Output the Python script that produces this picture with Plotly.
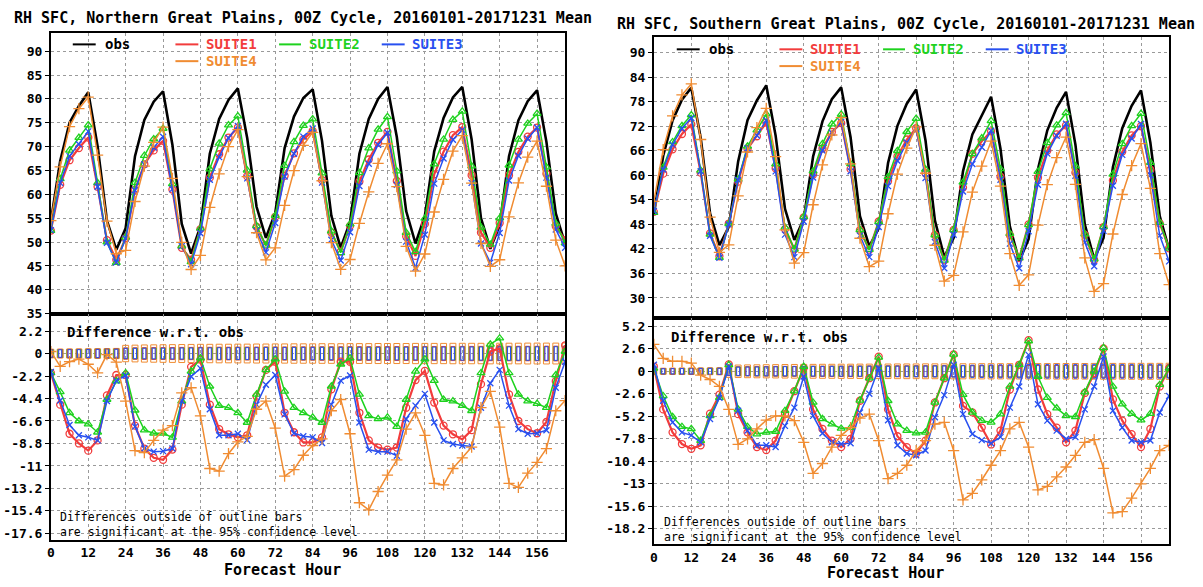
import plotly.graph_objects as go

W, H = 1203, 587

HOURS = [0, 3, 6, 9, 12, 15, 18, 21, 24, 27, 30, 33, 36, 39, 42, 45, 48, 51, 54, 57,
         60, 63, 66, 69, 72, 75, 78, 81, 84, 87, 90, 93, 96, 99, 102, 105, 108, 111,
         114, 117, 120, 123, 126, 129, 132, 135, 138, 141, 144, 147, 150, 153, 156,
         159, 162, 165]
XTICKS = [0, 12, 24, 36, 48, 60, 72, 84, 96, 108, 120, 132, 144, 156]

SUITES = ["SUITE1", "SUITE2", "SUITE3", "SUITE4"]
COLORS = {"obs": "#000000", "SUITE1": "#f23c3c", "SUITE2": "#1ed21e",
          "SUITE3": "#2850f0", "SUITE4": "#f08c32"}

# ---------------- Northern Great Plains ----------------
N_TITLE = "RH SFC, Northern Great Plains, 00Z Cycle, 20160101-20171231 Mean"
N_OBS = [54.3, 67.0, 75.0, 78.5, 81.4, 70.1, 54.5, 48.4,
         52.9, 68.0, 75.6, 79.4, 81.6, 70.4, 53.8, 47.6,
         53.3, 68.5, 75.8, 79.8, 82.2, 71.8, 57.4, 50.9,
         56.1, 69.7, 76.3, 80.2, 82.0, 71.2, 55.5, 48.8,
         54.2, 68.5, 75.8, 80.0, 82.5, 72.0, 56.5, 49.7,
         55.5, 69.0, 76.0, 80.3, 82.5, 71.5, 55.0, 48.6,
         53.5, 68.0, 75.5, 79.5, 81.8, 71.0, 56.0, 49.6]
N_D1 = [-1.9, -5.0, -7.85, -8.8, -9.5, -8.5, -4.1, -2.1,
        -2.1, -7.05, -9.3, -10.2, -10.4, -9.4, -5.0, -1.3,
        -0.6, -5.0, -7.4, -7.9, -8.2, -8.0, -4.2, -1.6,
        -0.8, -5.8, -7.7, -8.7, -8.7, -8.2, -3.5, -0.8,
        -0.8, -5.8, -8.5, -9.2, -9.4, -9.2, -5.3, -2.6,
        -1.7, -4.8, -7.05, -7.9, -8.4, -7.5, -3.0, 0.2,
        0.5, -4.0, -6.6, -7.4, -7.8, -6.7, -2.7, 0.8]
N_D2 = [-1.9, -3.75, -5.8, -6.6, -6.9, -7.7, -4.5, -2.7,
        -1.9, -5.55, -7.5, -7.8, -7.8, -8.2, -4.65, -1.75,
        -0.45, -3.2, -5.1, -5.3, -5.8, -6.75, -4.0, -1.6,
        -0.55, -3.7, -5.3, -5.8, -6.25, -6.75, -3.2, -1.05,
        -0.45, -4.0, -6.1, -6.4, -6.25, -7.15, -4.5, -1.75,
        -0.55, -2.65, -4.5, -4.65, -5.1, -5.6, -1.9, 0.9,
        1.5, -1.9, -4.0, -4.65, -4.9, -5.3, -2.1, 0.2]
N_D3 = [-1.8, -4.6, -7.0, -8.0, -8.2, -8.5, -4.65, -2.65,
        -2.15, -7.15, -9.3, -9.6, -9.55, -9.3, -4.65, -2.25,
        -1.45, -5.45, -8.0, -8.0, -7.85, -8.45, -5.0, -3.05,
        -2.1, -5.95, -7.8, -8.1, -8.2, -8.75, -5.0, -2.65,
        -2.15, -6.75, -9.4, -9.6, -9.6, -10.0, -6.4, -5.1,
        -3.95, -6.75, -8.5, -8.85, -9.0, -9.1, -5.3, -2.9,
        -1.6, -5.1, -7.4, -7.85, -7.8, -7.5, -3.35, -0.8]
N_D4 = [0.2, -1.25, -0.8, -0.55, -1.05, -1.9, -0.1, -0.85,
        -4.65, -9.5, -9.7, -8.5, -7.5, -7.05, -3.85, -3.35,
        -6.1, -11.25, -11.5, -9.8, -8.65, -8.1, -5.45, -4.65,
        -7.3, -12.0, -11.35, -9.95, -9.0, -8.35, -5.6, -4.5,
        -7.85, -14.6, -15.3, -13.5, -11.9, -10.4, -7.4, -5.8,
        -8.0, -12.7, -12.85, -11.25, -10.2, -9.15, -5.3, -3.7,
        -7.2, -12.7, -13.1, -11.7, -10.65, -9.3, -5.6, -4.6]
# half-widths of the 95% confidence outline bars
N_CI1 = [0.40, 0.41, 0.42, 0.42, 0.43, 0.44, 0.45, 0.46, 0.55, 0.56, 0.57, 0.58, 0.58, 0.59,
         0.60, 0.60, 0.61, 0.61, 0.62, 0.62, 0.63, 0.63, 0.63, 0.64, 0.64, 0.64, 0.65, 0.65,
         0.65, 0.66, 0.66, 0.66, 0.67, 0.67, 0.67, 0.67, 0.68, 0.68, 0.68, 0.68, 0.69, 0.69,
         0.69, 0.69, 0.70, 0.70, 0.70, 0.70, 0.70, 0.71, 0.71, 0.71, 0.71, 0.72, 0.72, 0.72]
N_CI2 = [0.38, 0.39, 0.40, 0.40, 0.41, 0.42, 0.43, 0.44, 0.52, 0.53, 0.54, 0.55, 0.55, 0.56,
         0.57, 0.57, 0.58, 0.58, 0.59, 0.59, 0.60, 0.60, 0.60, 0.61, 0.61, 0.61, 0.62, 0.62,
         0.62, 0.63, 0.63, 0.63, 0.64, 0.64, 0.64, 0.64, 0.65, 0.65, 0.65, 0.65, 0.66, 0.66,
         0.66, 0.66, 0.67, 0.67, 0.67, 0.67, 0.67, 0.68, 0.68, 0.68, 0.68, 0.69, 0.69, 0.69]
N_CI3 = [0.36, 0.37, 0.38, 0.38, 0.39, 0.40, 0.41, 0.42, 0.50, 0.51, 0.52, 0.53, 0.53, 0.54,
         0.55, 0.55, 0.56, 0.56, 0.57, 0.57, 0.58, 0.58, 0.58, 0.59, 0.59, 0.59, 0.60, 0.60,
         0.60, 0.61, 0.61, 0.61, 0.62, 0.62, 0.62, 0.62, 0.63, 0.63, 0.63, 0.63, 0.64, 0.64,
         0.64, 0.64, 0.65, 0.65, 0.65, 0.65, 0.65, 0.66, 0.66, 0.66, 0.66, 0.67, 0.67, 0.67]
N_CI4 = [0.42, 0.43, 0.44, 0.45, 0.46, 0.47, 0.48, 0.50, 0.80, 0.82, 0.84, 0.85, 0.86, 0.87,
         0.88, 0.89, 0.90, 0.90, 0.91, 0.91, 0.92, 0.92, 0.93, 0.93, 0.94, 0.94, 0.95, 0.95,
         0.95, 0.96, 0.96, 0.96, 0.97, 0.97, 0.97, 0.98, 0.98, 0.98, 0.98, 0.99, 0.99, 0.99,
         0.99, 1.00, 1.00, 1.00, 1.00, 1.01, 1.01, 1.01, 1.01, 1.02, 1.02, 1.02, 1.02, 1.03]

# ---------------- Southern Great Plains ----------------
S_TITLE = "RH SFC, Southern Great Plains, 00Z Cycle, 20160101-20171231 Mean"
S_OBS = [50.5, 64.8, 73.4, 78.5, 81.4, 69.2, 50.7, 42.9,
         47.4, 63.4, 73.5, 78.3, 82.0, 69.7, 51.8, 44.2,
         49.3, 64.6, 73.2, 78.6, 81.5, 69.3, 50.0, 42.6,
         47.0, 63.0, 72.1, 77.5, 81.0, 68.5, 49.0, 40.0,
         44.7, 61.0, 70.0, 74.8, 79.2, 66.5, 47.5, 39.0,
         44.4, 61.5, 71.0, 76.5, 80.4, 67.5, 48.0, 39.5,
         44.7, 62.0, 71.5, 77.0, 80.75, 68.0, 50.0, 41.8]
S_D1 = [0.55, -4.4, -7.05, -8.4, -8.95, -8.55, -4.9, -2.7,
        0.8, -4.95, -7.05, -8.75, -9.1, -8.0, -4.95, -2.3,
        0.4, -4.4, -6.65, -8.0, -8.75, -7.8, -3.4, -0.8,
        1.7, -4.4, -7.5, -8.75, -9.5, -8.0, -3.6, -0.8,
        1.95, -4.0, -4.75, -6.5, -8.45, -6.85, -2.1, 0.75,
        3.6, -2.1, -4.95, -6.5, -8.2, -6.85, -2.5, -0.2,
        2.65, -3.25, -5.7, -7.25, -8.75, -6.65, -1.75, 0.35]
S_D2 = [0.35, -2.85, -5.25, -6.4, -6.65, -8.0, -5.15, -3.05,
        0.75, -4.4, -6.4, -7.25, -7.05, -6.95, -4.55, -2.3,
        0.55, -3.6, -5.5, -6.1, -6.6, -6.5, -3.35, -0.8,
        1.6, -3.4, -6.1, -6.85, -7.15, -7.05, -3.6, -0.8,
        1.95, -2.7, -4.75, -5.7, -5.9, -4.95, -1.75, 0.75,
        3.5, -0.6, -3.05, -4.25, -5.15, -5.25, -2.4, 0.0,
        2.7, -1.75, -3.8, -4.9, -5.65, -4.9, -1.55, 0.35]
S_D3 = [0.75, -3.4, -5.9, -7.05, -7.4, -8.2, -5.5, -3.05,
        0.55, -4.55, -6.85, -8.55, -8.55, -8.75, -6.3, -4.2,
        -0.6, -5.15, -7.15, -8.2, -8.4, -8.3, -4.75, -2.6,
        0.35, -5.65, -8.55, -9.5, -9.7, -9.15, -5.3, -2.75,
        0.75, -4.95, -7.25, -7.95, -8.3, -7.6, -4.2, -1.75,
        1.9, -3.8, -5.7, -6.85, -7.8, -7.6, -4.4, -1.75,
        1.7, -4.55, -6.5, -8.0, -8.2, -8.0, -4.75, -2.85]
S_D4 = [3.1, 1.5, 1.15, 1.15, 0.95, -0.45, -0.95, -1.75,
        -4.4, -8.45, -7.8, -6.65, -5.65, -5.15, -5.15, -5.7,
        -8.2, -11.8, -10.65, -8.75, -7.4, -6.5, -5.4, -4.95,
        -8.0, -12.4, -11.8, -10.85, -9.15, -8.0, -6.1, -5.9,
        -9.15, -14.85, -14.1, -12.55, -10.85, -9.15, -6.65, -5.9,
        -8.75, -13.7, -13.3, -12.2, -11.05, -9.7, -8.2, -7.9,
        -11.2, -16.35, -16.2, -14.65, -13.0, -11.2, -9.15, -8.55]
S_CI1 = [0.32, 0.33, 0.34, 0.35, 0.35, 0.36, 0.37, 0.38, 0.50, 0.52, 0.53, 0.54, 0.55, 0.56,
         0.57, 0.57, 0.58, 0.59, 0.59, 0.60, 0.60, 0.61, 0.61, 0.62, 0.62, 0.63, 0.63, 0.63,
         0.64, 0.64, 0.65, 0.65, 0.65, 0.66, 0.66, 0.66, 0.67, 0.67, 0.67, 0.68, 0.68, 0.68,
         0.69, 0.69, 0.69, 0.70, 0.70, 0.70, 0.70, 0.71, 0.71, 0.71, 0.72, 0.72, 0.72, 0.72]
S_CI2 = [0.30, 0.31, 0.32, 0.33, 0.33, 0.34, 0.35, 0.36, 0.48, 0.50, 0.51, 0.52, 0.53, 0.54,
         0.55, 0.55, 0.56, 0.57, 0.57, 0.58, 0.58, 0.59, 0.59, 0.60, 0.60, 0.61, 0.61, 0.61,
         0.62, 0.62, 0.63, 0.63, 0.63, 0.64, 0.64, 0.64, 0.65, 0.65, 0.65, 0.66, 0.66, 0.66,
         0.67, 0.67, 0.67, 0.68, 0.68, 0.68, 0.68, 0.69, 0.69, 0.69, 0.70, 0.70, 0.70, 0.70]
S_CI3 = [0.29, 0.30, 0.31, 0.32, 0.32, 0.33, 0.34, 0.35, 0.47, 0.49, 0.50, 0.51, 0.52, 0.53,
         0.54, 0.54, 0.55, 0.56, 0.56, 0.57, 0.57, 0.58, 0.58, 0.59, 0.59, 0.60, 0.60, 0.60,
         0.61, 0.62, 0.63, 0.64, 0.66, 0.68, 0.70, 0.72, 0.74, 0.75, 0.76, 0.77, 0.78, 0.78,
         0.79, 0.79, 0.79, 0.80, 0.80, 0.80, 0.80, 0.80, 0.80, 0.80, 0.80, 0.80, 0.80, 0.80]
S_CI4 = [0.34, 0.35, 0.36, 0.37, 0.37, 0.38, 0.39, 0.40, 0.70, 0.72, 0.74, 0.75, 0.76, 0.77,
         0.78, 0.79, 0.80, 0.80, 0.81, 0.81, 0.82, 0.82, 0.83, 0.83, 0.84, 0.84, 0.85, 0.85,
         0.85, 0.86, 0.86, 0.86, 0.87, 0.87, 0.87, 0.88, 0.88, 0.88, 0.88, 0.89, 0.89, 0.89,
         0.89, 0.90, 0.90, 0.90, 0.90, 0.91, 0.91, 0.91, 0.91, 0.92, 0.92, 0.92, 0.92, 0.93]

N_TICKS_TOP = [35, 40, 45, 50, 55, 60, 65, 70, 75, 80, 85, 90]
N_TICKS_BOT = [2.2, 0, -2.2, -4.4, -6.6, -8.8, -11, -13.2, -15.4, -17.6]
N_TICKTEXT_BOT = ["2.2", "0", "-2.2", "-4.4", "-6.6", "-8.8", "-11", "-13.2", "-15.4", "-17.6"]
S_TICKS_TOP = [30, 36, 42, 48, 54, 60, 66, 72, 78, 84, 90]
S_TICKS_BOT = [5.2, 2.6, 0, -2.6, -5.2, -7.8, -10.4, -13, -15.6, -18.2]
S_TICKTEXT_BOT = ["5.2", "2.6", "0", "-2.6", "-5.2", "-7.8", "-10.4", "-13", "-15.6", "-18.2"]

NOTE = "Differences outside of outline bars<br>are significant at the 95% confidence level"

FONT = "DejaVu Sans Mono"
MARKERS = {"SUITE1": ("circle-open", 7, 2.2),
           "SUITE2": ("triangle-up-open", 7, 1.5),
           "SUITE3": ("x-thin-open", 6, 1.5),
           "SUITE4": ("cross-thin-open", 8, 1.5)}
BOX_W = {"SUITE4": 1.9, "SUITE2": 1.55, "SUITE1": 1.25, "SUITE3": 0.95}


def fx(px):
    return px / W


def fy(py):
    return 1 - py / H


fig = go.Figure()

panels = [
    dict(obs=N_OBS, diffs=[N_D1, N_D2, N_D3, N_D4], cis=[N_CI1, N_CI2, N_CI3, N_CI4],
         xa="x", ya="y", xb="x2", yb="y2"),
    dict(obs=S_OBS, diffs=[S_D1, S_D2, S_D3, S_D4], cis=[S_CI1, S_CI2, S_CI3, S_CI4],
         xa="x3", ya="y3", xb="x4", yb="y4"),
]

for p in panels:
    # outline confidence bars (drawn first, under the curves)
    for name in ["SUITE4", "SUITE2", "SUITE1", "SUITE3"]:
        ci = p["cis"][SUITES.index(name)]
        fig.add_trace(go.Bar(
            x=HOURS, y=[2 * c for c in ci], base=[-c for c in ci],
            width=BOX_W[name], xaxis=p["xb"], yaxis=p["yb"],
            marker=dict(color="rgba(0,0,0,0)", line=dict(color=COLORS[name], width=1)),
            showlegend=False, hoverinfo="skip"))
    # obs
    fig.add_trace(go.Scatter(x=HOURS, y=p["obs"], mode="lines", xaxis=p["xa"], yaxis=p["ya"],
                             line=dict(color="black", width=2.6), showlegend=False))
    for i, name in enumerate(SUITES):
        d = p["diffs"][i]
        vals = [o + v for o, v in zip(p["obs"], d)]
        sym, sz, lw = MARKERS[name]
        mk = dict(symbol=sym, size=sz, color=COLORS[name], line=dict(color=COLORS[name], width=1.3))
        fig.add_trace(go.Scatter(x=HOURS, y=vals, mode="lines+markers", xaxis=p["xa"], yaxis=p["ya"],
                                 line=dict(color=COLORS[name], width=lw), marker=mk, showlegend=False))
        fig.add_trace(go.Scatter(x=HOURS, y=d, mode="lines+markers", xaxis=p["xb"], yaxis=p["yb"],
                                 line=dict(color=COLORS[name], width=lw), marker=mk, showlegend=False))

tickfont = dict(family=FONT, size=13, color="black", weight="bold")
common_axis = dict(showline=True, linewidth=1.6, linecolor="black", mirror=True,
                   showgrid=True, gridcolor="#9a9a9a", griddash="dot", gridwidth=1,
                   zeroline=False, tickfont=tickfont, tickcolor="black")

LX = [fx(47), fx(563)]
RX = [fx(652), fx(1169)]

fig.update_layout(
    width=W, height=H, margin=dict(l=0, r=0, t=0, b=0),
    paper_bgcolor="white", plot_bgcolor="white", barmode="overlay", showlegend=False,
    xaxis=dict(domain=LX, anchor="y", range=[0, 165], tickvals=XTICKS, showticklabels=False,
               ticks="", **common_axis),
    yaxis=dict(domain=[fy(318), fy(33)], anchor="x", range=[35, 93.9], tickvals=N_TICKS_TOP,
               ticks="outside", ticklen=4, **common_axis),
    xaxis2=dict(domain=LX, anchor="y2", range=[0, 165], tickvals=XTICKS,
                ticktext=[str(t) for t in XTICKS], ticks="", **common_axis),
    yaxis2=dict(domain=[fy(547), fy(318)], anchor="x2", range=[-18.2, 3.9], tickvals=N_TICKS_BOT,
                ticktext=N_TICKTEXT_BOT, ticks="outside", ticklen=4, **common_axis),
    xaxis3=dict(domain=RX, anchor="y3", range=[0, 165], tickvals=XTICKS, showticklabels=False,
                ticks="", **common_axis),
    yaxis3=dict(domain=[fy(322), fy(38)], anchor="x3", range=[25.2, 93.7], tickvals=S_TICKS_TOP,
                ticks="outside", ticklen=4, **common_axis),
    xaxis4=dict(domain=RX, anchor="y4", range=[0, 165], tickvals=XTICKS,
                ticktext=[str(t) for t in XTICKS], ticks="", **common_axis),
    yaxis4=dict(domain=[fy(552), fy(322)], anchor="x4", range=[-20.0, 6.2], tickvals=S_TICKS_BOT,
                ticktext=S_TICKTEXT_BOT, ticks="outside", ticklen=4, **common_axis),
)

ann = []
shapes = []


def text(x, y, s, size, color="black", xanchor="left", bold=True, align="left"):
    ann.append(dict(x=fx(x), y=fy(y), xref="paper", yref="paper", text=s, showarrow=False,
                    xanchor=xanchor, yanchor="middle", borderpad=0, align=align,
                    font=dict(family=FONT, size=size, color=color,
                              weight="bold" if bold else "normal")))


def legline(x0, x1, y, color):
    shapes.append(dict(type="line", xref="paper", yref="paper", x0=fx(x0), x1=fx(x1),
                       y0=fy(y), y1=fy(y), line=dict(color=color, width=2)))


# titles
text(9, 18, N_TITLE, 15)
text(614, 24, S_TITLE, 15)

# legends
for (dx, dy) in [(0, 0), (606, 5)]:
    r1, r2 = 45 + dy, 62 + dy
    legline(69 + dx, 92 + dx, r1, "black"); text(100 + dx, r1, "obs", 14)
    legline(172 + dx, 195 + dx, r1, COLORS["SUITE1"]); text(202 + dx, r1, "SUITE1", 14, COLORS["SUITE1"])
    legline(276 + dx, 298 + dx, r1, COLORS["SUITE2"]); text(305 + dx, r1, "SUITE2", 14, COLORS["SUITE2"])
    legline(379 + dx, 402 + dx, r1, COLORS["SUITE3"]); text(408 + dx, r1, "SUITE3", 14, COLORS["SUITE3"])
    legline(172 + dx, 195 + dx, r2, COLORS["SUITE4"]); text(202 + dx, r2, "SUITE4", 14, COLORS["SUITE4"])

# difference labels and notes
text(62, 337, "Difference w.r.t. obs", 14)
text(668, 342, "Difference w.r.t. obs", 14)
text(55, 532, NOTE, 11.5, bold=False)
text(661, 537, NOTE, 11.5, bold=False)

# x-axis titles
text(279, 578, "Forecast Hour", 15, xanchor="center")
text(884, 581, "Forecast Hour", 15, xanchor="center")

fig.update_layout(annotations=ann, shapes=shapes)
fig.write_html("out.html", config={"displayModeBar": False},
               post_script="document.body.style.margin='0';document.body.style.overflow='hidden';")
